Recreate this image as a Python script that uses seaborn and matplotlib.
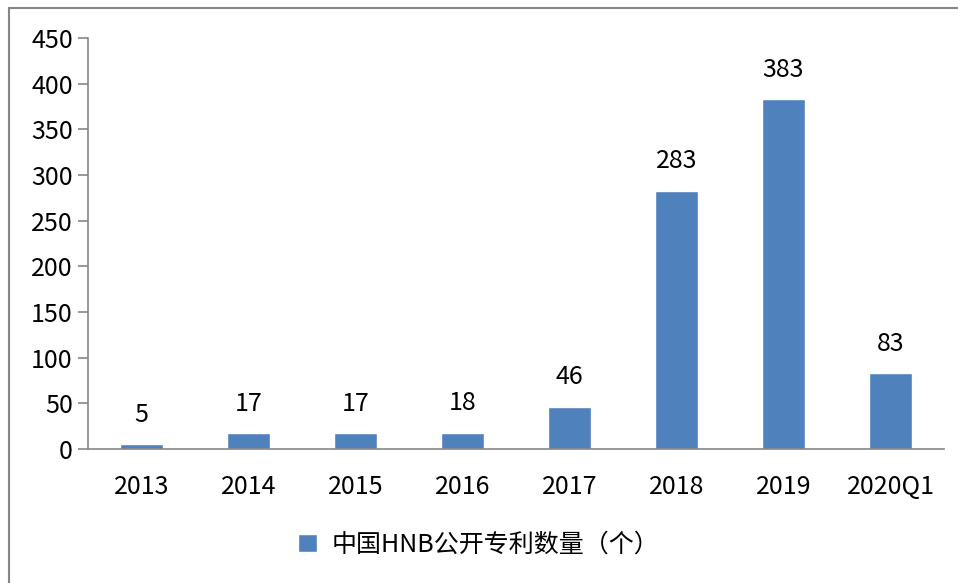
import matplotlib
matplotlib.use('Agg')
import matplotlib.pyplot as plt
import matplotlib.patches as mpatches
import seaborn as sns

# data
years = ['2013', '2014', '2015', '2016', '2017', '2018', '2019', '2020Q1']
patents = [5, 17, 17, 18, 46, 283, 383, 83]
series_name = '中国HNB公开专利数量（个）'

sns.set_style('white')
plt.rcParams['font.family'] = ['Noto Sans CJK SC', 'DejaVu Sans']
plt.rcParams['text.color'] = 'black'

bar_color = '#4F81BD'
axis_gray = '#868686'
fs = 18

fig = plt.figure(figsize=(9.58, 5.83), dpi=100)
ax = fig.add_axes([0.0919, 0.2298, 0.8935, 0.7050])

sns.barplot(x=years, y=patents, color=bar_color, width=0.4, saturation=1,
            label=series_name, ax=ax)

ax.bar_label(ax.containers[0], padding=12, fontsize=fs, color='black')

ax.set_xlim(-0.5, len(years) - 0.5)
ax.set_ylim(0, 450)
ax.set_yticks(range(0, 451, 50))

# spines: only left and bottom, grey
for side in ['top', 'right']:
    ax.spines[side].set_visible(False)
for side in ['left', 'bottom']:
    ax.spines[side].set_color(axis_gray)
    ax.spines[side].set_linewidth(1.2)

# category ticks sit between the bars
ax.set_xticks([i - 0.5 for i in range(len(years) + 1)], minor=True)
ax.tick_params(axis='x', which='major', length=0, pad=18, labelsize=fs, labelcolor='black')
ax.tick_params(axis='x', which='minor', length=7, width=1.2, color=axis_gray, direction='out')
ax.tick_params(axis='y', which='major', length=7, width=1.2, color=axis_gray,
               direction='out', labelsize=fs, pad=4, left=True, labelcolor='black')

leg = ax.legend(loc='lower center', bbox_to_anchor=(0.5, 0.005), bbox_transform=fig.transFigure,
                frameon=False, fontsize=fs, handlelength=0.75, handleheight=0.75,
                handletextpad=0.6)
for t in leg.get_texts():
    t.set_color('black')

# outer chart border (left/top visible in reference)
fig.patches.append(mpatches.Rectangle((9 / 958, -0.1), 1.2, 1 - 8 / 583 + 0.1,
                                      transform=fig.transFigure, fill=False,
                                      edgecolor=axis_gray, linewidth=1.5))

fig.savefig('out.png', dpi=100)
